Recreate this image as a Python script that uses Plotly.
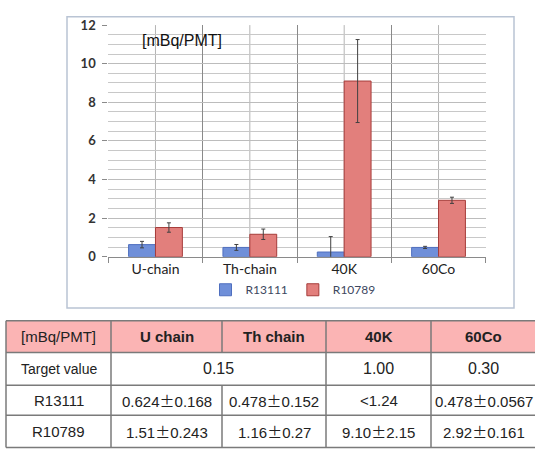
import plotly.graph_objects as go

# ---------------- data ----------------
categories = ["U-chain", "Th-chain", "40K", "60Co"]
r13111 = [0.624, 0.478, 0.24, 0.478]
r13111_err = [0.168, 0.152, 0.80, 0.0567]
r10789 = [1.51, 1.16, 9.10, 2.92]
r10789_err = [0.243, 0.27, 2.15, 0.161]
y_ticks = [0, 2, 4, 6, 8, 10, 12]

table_header = ["[mBq/PMT]", "U chain", "Th chain", "40K", "60Co"]
target_row = ["Target value", "0.15", "1.00", "0.30"]
row_r13111 = ["R13111", "0.624\u00b10.168", "0.478\u00b10.152", "<1.24", "0.478\u00b10.0567"]
row_r10789 = ["R10789", "1.51\u00b10.243", "1.16\u00b10.27", "9.10\u00b12.15", "2.92\u00b10.161"]

# ---------------- layout constants (pixels) ----------------
W, H = 535, 456
def px(x):
    return x / W
def py(y):
    return 1 - y / H

plot_l, plot_r, plot_t, plot_b = 108.3, 485.7, 17.7, 257.7
col_edges = [6, 111, 222, 326, 431, 536]
row_edges = [324, 357, 391, 422, 455.5]

fig = go.Figure()
fig.add_trace(go.Bar(
    x=categories, y=r13111, name="R13111",
    marker=dict(color="#6f8fd9", line=dict(color="#4f6fbf", width=1)),
    error_y=dict(type="data", array=r13111_err, color="#404040", thickness=1, width=2),
))
fig.add_trace(go.Bar(
    x=categories, y=r10789, name="R10789",
    marker=dict(color="#e27f7c", line=dict(color="#a63c3a", width=1)),
    error_y=dict(type="data", array=r10789_err, color="#404040", thickness=1, width=2),
))

shapes = []
# category centre gridlines
for c in categories:
    shapes.append(dict(type="line", xref="x", yref="y domain", x0=c, x1=c, y0=0, y1=1,
                       line=dict(color="#b4b4b4", width=1), layer="below"))
# outer chart frame
shapes.append(dict(type="rect", xref="paper", yref="paper",
                   x0=px(67), x1=px(514), y0=py(311), y1=py(9),
                   line=dict(color="#b9c4d4", width=1.5), fillcolor="rgba(0,0,0,0)", layer="below"))
# table header fill
for i in range(5):
    shapes.append(dict(type="rect", xref="paper", yref="paper",
                       x0=px(col_edges[i]), x1=px(col_edges[i + 1]),
                       y0=py(row_edges[1]), y1=py(row_edges[0]),
                       fillcolor="#fbb4b4", line=dict(width=0), layer="below"))
# table horizontal borders
for r in row_edges:
    shapes.append(dict(type="line", xref="paper", yref="paper",
                       x0=px(col_edges[0]), x1=px(col_edges[-1]), y0=py(r), y1=py(r),
                       line=dict(color="#7a7a7a", width=1.5)))
# table vertical borders (no border between U and Th in target row)
for j, c in enumerate(col_edges):
    if j == 2:
        segs = [(row_edges[0], row_edges[1]), (row_edges[2], row_edges[4])]
    else:
        segs = [(row_edges[0], row_edges[4])]
    for a, b in segs:
        shapes.append(dict(type="line", xref="paper", yref="paper",
                           x0=px(c), x1=px(c), y0=py(a), y1=py(b),
                           line=dict(color="#7a7a7a", width=1.5)))

annotations = [dict(text="[mBq/PMT]", xref="paper", yref="paper", x=px(140), y=py(34),
                    xanchor="left", yanchor="middle", showarrow=False,
                    font=dict(family="Liberation Sans, Arial", size=16, color="#111"))]

PM = '<span style="font-family:Noto Sans CJK JP">\u00b1</span>'

def cell(text, xc, yc, size=15, bold=False):
    text = text.replace("\u00b1", PM)
    annotations.append(dict(text=("<b>%s</b>" % text) if bold else text,
                            xref="paper", yref="paper", x=px(xc), y=py(yc),
                            xanchor="center", yanchor="middle", showarrow=False,
                            font=dict(family="Liberation Sans, Arial", size=size, color="#222")))

centres = [(col_edges[i] + col_edges[i + 1]) / 2 for i in range(5)]
rc = [(row_edges[i] + row_edges[i + 1]) / 2 for i in range(4)]
for i, t in enumerate(table_header):
    cell(t, centres[i], rc[0], size=15, bold=(i > 0))
cell(target_row[0], centres[0], rc[1], size=14)
cell(target_row[1], (col_edges[1] + col_edges[3]) / 2, rc[1], size=16)
cell(target_row[2], centres[3], rc[1], size=16)
cell(target_row[3], centres[4], rc[1], size=16)
for i, t in enumerate(row_r13111):
    cell(t, centres[i], rc[2], size=15)
for i, t in enumerate(row_r10789):
    cell(t, centres[i], rc[3], size=15)

fig.update_layout(
    width=W, height=H,
    margin=dict(l=0, r=0, t=0, b=0),
    paper_bgcolor="white", plot_bgcolor="white",
    barmode="group", bargap=0.43, bargroupgap=0,
    shapes=shapes, annotations=annotations,
    showlegend=True,
    legend=dict(orientation="h", x=px(293), xanchor="center", y=py(292), yanchor="middle",
                font=dict(family="Lato, Liberation Sans", size=12, color="#3d4760"),
                itemwidth=30, tracegroupgap=0, bgcolor="rgba(0,0,0,0)"),
    xaxis=dict(domain=[px(plot_l), px(plot_r)], type="category",
               tickson="boundaries", showgrid=True, gridcolor="#8a8a8a", gridwidth=1,
               ticks="outside", ticklen=5, tickcolor="#8a8a8a",
               showline=True, linecolor="#8a8a8a", linewidth=1,
               tickfont=dict(family="Lato, Liberation Sans", size=14, color="#222")),
    yaxis=dict(domain=[py(plot_b), py(plot_t)], range=[0, 12], tickvals=y_ticks,
               showgrid=True, gridcolor="#bcbcbc", gridwidth=1, zeroline=False,
               minor=dict(dtick=0.5, showgrid=True, gridcolor="#c8c8c8", gridwidth=1),
               ticks="outside", ticklen=5, tickcolor="#8a8a8a", ticklabelstandoff=4,
               showline=False,
               tickfont=dict(family="Lato, Liberation Sans", size=13, color="#333", weight="bold")),
)

fig.write_html("out.html", config={"displayModeBar": False},
               post_script="document.body.style.margin='0';document.body.style.overflow='hidden';")
